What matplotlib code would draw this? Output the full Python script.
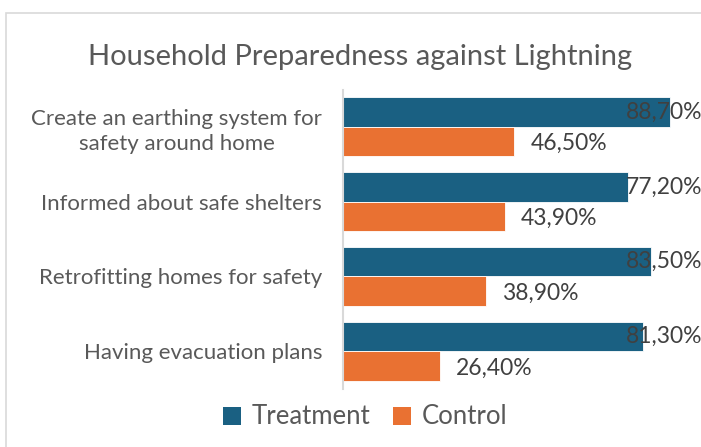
import matplotlib
matplotlib.use("Agg")
import matplotlib.pyplot as plt
from matplotlib.patches import Rectangle, Patch
from matplotlib.transforms import blended_transform_factory

plt.rcParams['font.family'] = ['Lato', 'DejaVu Sans']

categories = ["Create an earthing system for\nsafety around home",
              "Informed about safe shelters",
              "Retrofitting homes for safety",
              "Having evacuation plans"]
treatment = [88.7, 77.2, 83.5, 81.3]
control = [46.5, 43.9, 38.9, 26.4]
series_names = ["Treatment", "Control"]
title = "Household Preparedness against Lightning"

c_treat = "#1A6082"
c_ctrl = "#E97132"
gray = "#595959"
dark = "#404040"

W, H = 701, 447
fig = plt.figure(figsize=(W / 100, H / 100), dpi=100)

# chart border
fig.patches.append(Rectangle((6 / W, -0.1), 1.2, (H - 13) / H + 0.1,
                             transform=fig.transFigure, fill=False,
                             edgecolor="#D9D9D9", linewidth=1.2))

ax_left, ax_right = 343, 711.7
ax_top, ax_bot = 89.5, 388.5
ax = fig.add_axes([ax_left / W, (H - ax_bot) / H,
                   (ax_right - ax_left) / W, (ax_bot - ax_top) / H])

n = len(categories)
ypos = list(range(n))
bh = 0.393
ax.barh([y - bh / 2 for y in ypos], treatment, height=bh, color=c_treat,
        edgecolor="white", linewidth=0.6)
ax.barh([y + bh / 2 for y in ypos], control, height=bh, color=c_ctrl,
        edgecolor="white", linewidth=0.6)

ax.set_xlim(0, 100)
ax.set_ylim(n - 0.5, -0.5)
ax.set_xticks([])
ax.set_yticks(ypos)
ax.set_yticklabels(categories, fontsize=16, color=gray, ha="right",
                   multialignment="center", linespacing=1.3)
ax.tick_params(axis="y", length=0, pad=15)
for s in ["top", "right", "bottom"]:
    ax.spines[s].set_visible(False)
ax.spines["left"].set_color("#D9D9D9")
ax.spines["left"].set_linewidth(1.5)

def fmt(v):
    return f"{v:.2f}".replace(".", ",") + "%"

trans = blended_transform_factory(ax.transAxes, ax.transData)
for y, v in zip(ypos, treatment):
    ax.text(0.9745, y - bh / 2, fmt(v), transform=trans, ha="right",
            va="center", fontsize=16.5, color=dark)
for y, v in zip(ypos, control):
    ax.text(v + 4.3, y + bh / 2 + 0.03, fmt(v), ha="left", va="center",
            fontsize=16.5, color=dark)

fig.text(360 / W, 1 - 57 / H, title, ha="center", va="center",
         fontsize=21, color=gray)

handles = [Patch(facecolor=c_treat), Patch(facecolor=c_ctrl)]
fig.legend(handles, series_names, loc="center", bbox_to_anchor=(365 / W, 1 - 417 / H),
           ncol=2, frameon=False, fontsize=18.5, labelcolor=gray,
           handlelength=0.7, handleheight=0.7, handletextpad=0.4,
           columnspacing=0.9)

fig.savefig("out.png", dpi=100)
